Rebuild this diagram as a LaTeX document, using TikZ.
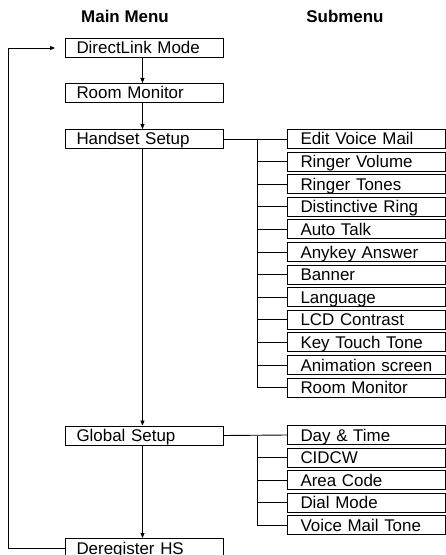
\documentclass[tikz,border=0pt]{standalone}
\usepackage{fontspec}
\setmainfont{Liberation Sans}
\usetikzlibrary{arrows.meta}
\begin{document}
\begin{tikzpicture}[x=1bp,y=-1bp, line width=0.9bp,
  boxbase/.style={draw, line width=1bp, inner xsep=0pt, inner ysep=0pt,
    text width=158bp, align=left, text height=15.5bp, text depth=3.5bp,
    font=\fontsize{17}{19}\selectfont, anchor=north west},
  menubox/.style={boxbase},
  subbox/.style={boxbase},
  hdr/.style={font=\bfseries\fontsize{17}{19}\selectfont, anchor=base, inner sep=0pt},
  arr/.style={-{Triangle[length=5bp,width=4bp]}}]
\useasboundingbox (0,0) rectangle (446,555);
\clip (0,0) rectangle (446,555);

\node[hdr] (mm) at (125,23) {Main Menu};
\node[hdr] (sm) at (345,23) {Submenu};

\node[menubox] (DL) at (65,38) {\hspace*{11bp}DirectLink Mode};
\node[menubox] (RM) at (65,83) {\hspace*{11bp}Room Monitor};
\node[menubox] (HS) at (65,129) {\hspace*{11bp}Handset Setup};
\node[menubox] (GS) at (65,425.5) {\hspace*{11bp}Global Setup};
\node[menubox] (DR) at (65,538) {\hspace*{11bp}Deregister HS};

\foreach \t [count=\i from 0] in {Edit Voice Mail, Ringer Volume, Ringer Tones,
  Distinctive Ring, Auto Talk, Anykey Answer, Banner, Language, LCD Contrast,
  Key Touch Tone, Animation screen, Room Monitor}
  \node[subbox] (h\i) at (287,{129+\i*22.6}) {\hspace*{13bp}\t};

\foreach \t [count=\i from 0] in {Day \& Time, CIDCW, Area Code, Dial Mode, Voice Mail Tone}
  \node[subbox] (g\i) at (287,{425+\i*22.5}) {\hspace*{13bp}\t};

\coordinate (bus) at (257,0);
\coordinate (loop) at (8,0);

\draw[arr] ([xshift=-2bp]DL.south) -- ([xshift=-2bp]RM.north);
\draw[arr] ([xshift=-2bp]RM.south) -- ([xshift=-2bp]HS.north);
\draw[arr] ([xshift=-2bp]HS.south) -- ([xshift=-2bp]GS.north);
\draw[arr] ([xshift=-2bp]GS.south) -- ([xshift=-2bp]DR.north);

\draw (HS.east) -- (h0.west);
\foreach \i in {1,...,11}
  \draw (bus |- HS.east) |- (h\i.west);

\draw (GS.east) -- (g0.west);
\foreach \i in {1,...,4}
  \draw (bus |- GS.east) |- (g\i.west);

\draw[arr, shorten >=10bp] (DR.west) -- (loop |- DR.west) -- (loop |- DL.west) -- (DL.west);
\end{tikzpicture}
\end{document}
